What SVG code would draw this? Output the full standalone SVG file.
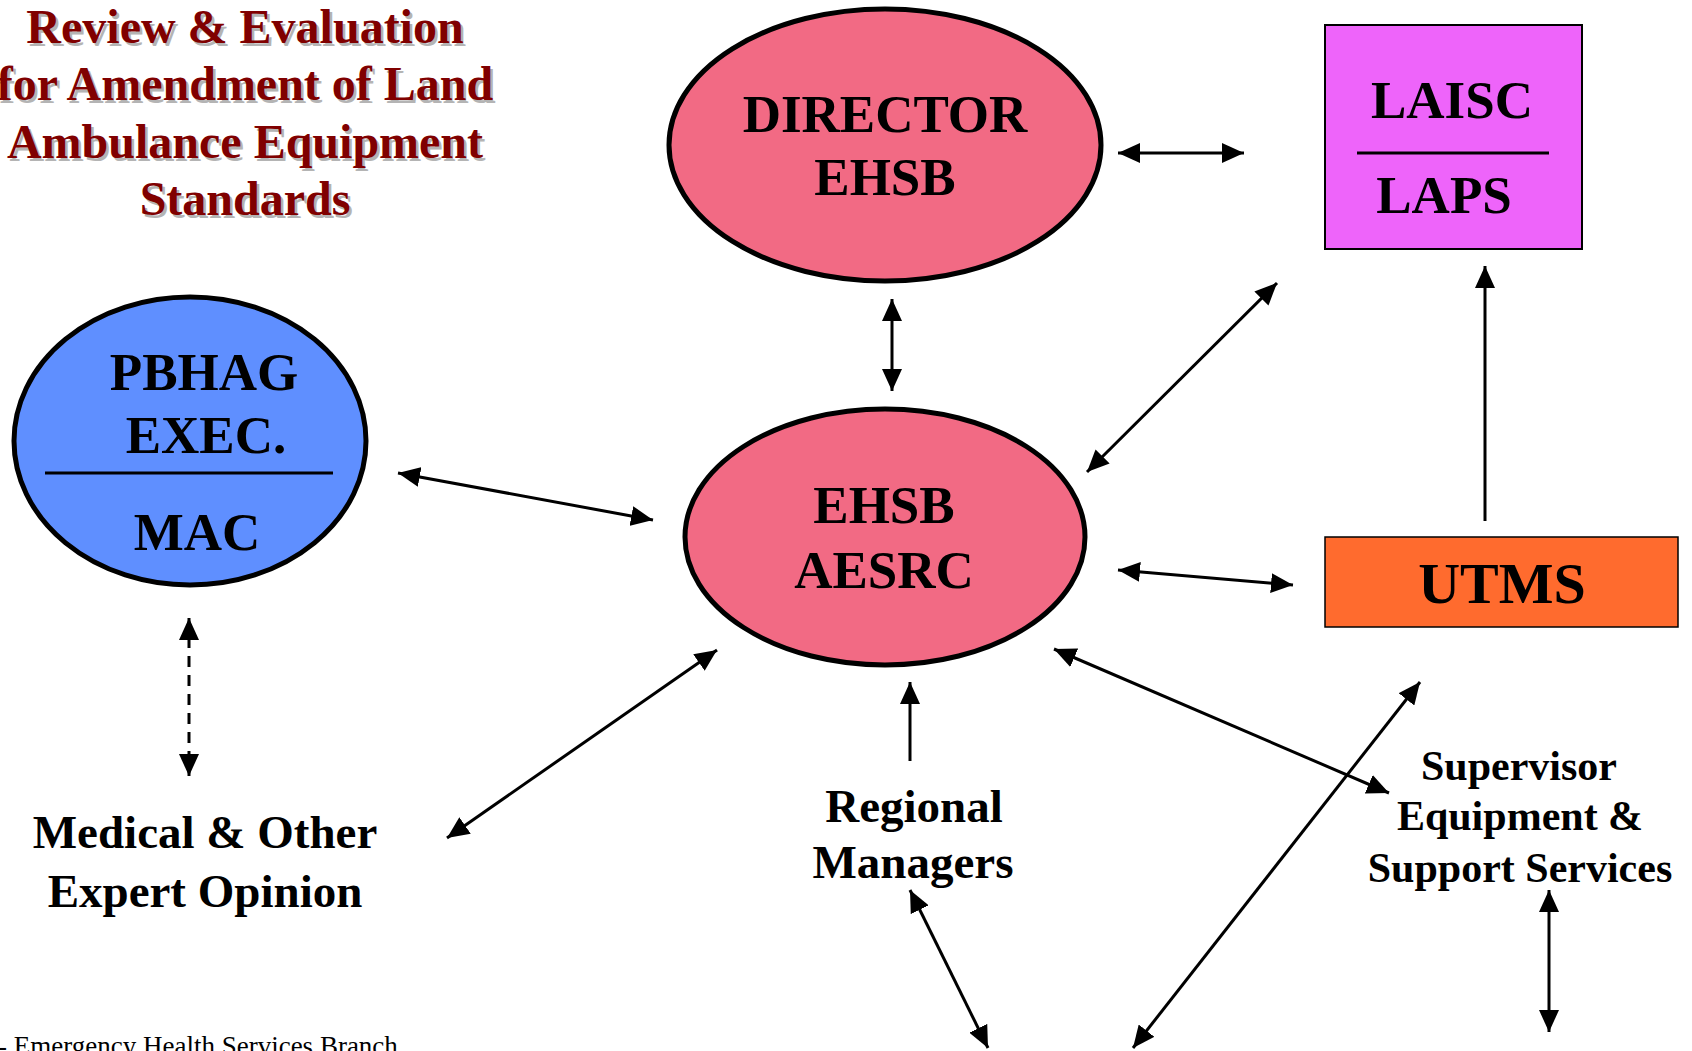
<svg xmlns="http://www.w3.org/2000/svg" width="1692" height="1051" viewBox="0 0 1692 1051">
<style>
text{font-family:"Liberation Serif","Times New Roman",serif;font-weight:bold;fill:#000;text-anchor:middle}
.title{font-size:48px;fill:#800000}
.tshadow{font-size:48px;fill:#b4b4b4}
.n53{font-size:53px}
.n47{font-size:47px}
.n42{font-size:42px}
.foot{font-size:27px;font-weight:normal;text-anchor:start}
.ell{stroke:#000;stroke-width:5}
.conn line{stroke:#000;stroke-width:3;marker-start:url(#ah);marker-end:url(#ah)}
.conn line.one{marker-start:none}
.conn line.dash{stroke-dasharray:11 8}
.div{stroke:#000;stroke-width:3}
</style>
<defs>
<marker id="ah" markerUnits="userSpaceOnUse" markerWidth="22" markerHeight="20" refX="22" refY="10" orient="auto-start-reverse" viewBox="0 0 22 20">
<path d="M0,0 L22,10 L0,20 z" fill="#000"/>
</marker>
</defs>
<rect width="1692" height="1051" fill="#fff"/>

<g id="title">
<g transform="translate(2.5,2.5)">
<text class="tshadow" x="245" y="43">Review &amp; Evaluation</text>
<text class="tshadow" x="245" y="100">for Amendment of Land</text>
<text class="tshadow" x="245" y="158">Ambulance Equipment</text>
<text class="tshadow" x="245" y="215">Standards</text>
</g>
<text class="title" x="245" y="43">Review &amp; Evaluation</text>
<text class="title" x="245" y="100">for Amendment of Land</text>
<text class="title" x="245" y="158">Ambulance Equipment</text>
<text class="title" x="245" y="215">Standards</text>
</g>

<g id="director">
<ellipse class="ell" cx="885" cy="145" rx="216" ry="136" fill="#F26A84"/>
<text class="n53" x="885" y="132">DIRECTOR</text>
<text class="n53" x="885" y="195">EHSB</text>
</g>

<g id="laisc">
<rect x="1325" y="25" width="257" height="224" fill="#EE64FA" stroke="#000" stroke-width="2"/>
<line class="div" x1="1357" y1="153" x2="1549" y2="153"/>
<text class="n53" x="1452" y="118">LAISC</text>
<text class="n53" x="1444" y="213">LAPS</text>
</g>

<g id="pbhag">
<ellipse class="ell" cx="190" cy="441" rx="176" ry="144" fill="#5F8FFF"/>
<line class="div" x1="45" y1="473" x2="333" y2="473"/>
<text class="n53" x="204" y="390">PBHAG</text>
<text class="n53" x="206" y="453">EXEC.</text>
<text class="n53" x="197" y="550">MAC</text>
</g>

<g id="aesrc">
<ellipse class="ell" cx="885" cy="537" rx="200" ry="128" fill="#F26A84"/>
<text class="n53" x="884" y="523">EHSB</text>
<text class="n53" x="884" y="588">AESRC</text>
</g>

<g id="utms">
<rect x="1325" y="537" width="353" height="90" fill="#FF6B2E" stroke="#000" stroke-width="1.5"/>
<text x="1502" y="603" style="font-size:58px">UTMS</text>
</g>

<g id="medical">
<text class="n47" x="205" y="848">Medical &amp; Other</text>
<text class="n47" x="205" y="907">Expert Opinion</text>
</g>

<g id="regional">
<text class="n47" x="914" y="822">Regional</text>
<text class="n47" x="913" y="878">Managers</text>
</g>

<g id="supervisor">
<text class="n42" x="1519" y="780">Supervisor</text>
<text class="n42" x="1520" y="830">Equipment &amp;</text>
<text class="n42" x="1520" y="882">Support Services</text>
</g>

<g id="footer">
<text class="foot" x="-2" y="1055">- Emergency Health Services Branch</text>
</g>

<g id="connectors" class="conn">
<line x1="1118" y1="153" x2="1244" y2="153"/>
<line x1="892" y1="299" x2="892" y2="391"/>
<line x1="1087" y1="472" x2="1277" y2="283"/>
<line x1="398" y1="473" x2="653" y2="520"/>
<line x1="1118" y1="570" x2="1293" y2="585"/>
<line class="dash" x1="189" y1="618" x2="189" y2="776"/>
<line x1="447" y1="838" x2="717" y2="650"/>
<line class="one" x1="910" y1="761" x2="910" y2="682"/>
<line class="one" x1="1485" y1="521" x2="1485" y2="266"/>
<line x1="910" y1="890" x2="988" y2="1048"/>
<line x1="1054" y1="649" x2="1389" y2="793"/>
<line x1="1420" y1="682" x2="1133" y2="1048"/>
<line x1="1549" y1="890" x2="1549" y2="1032"/>
</g>
</svg>
